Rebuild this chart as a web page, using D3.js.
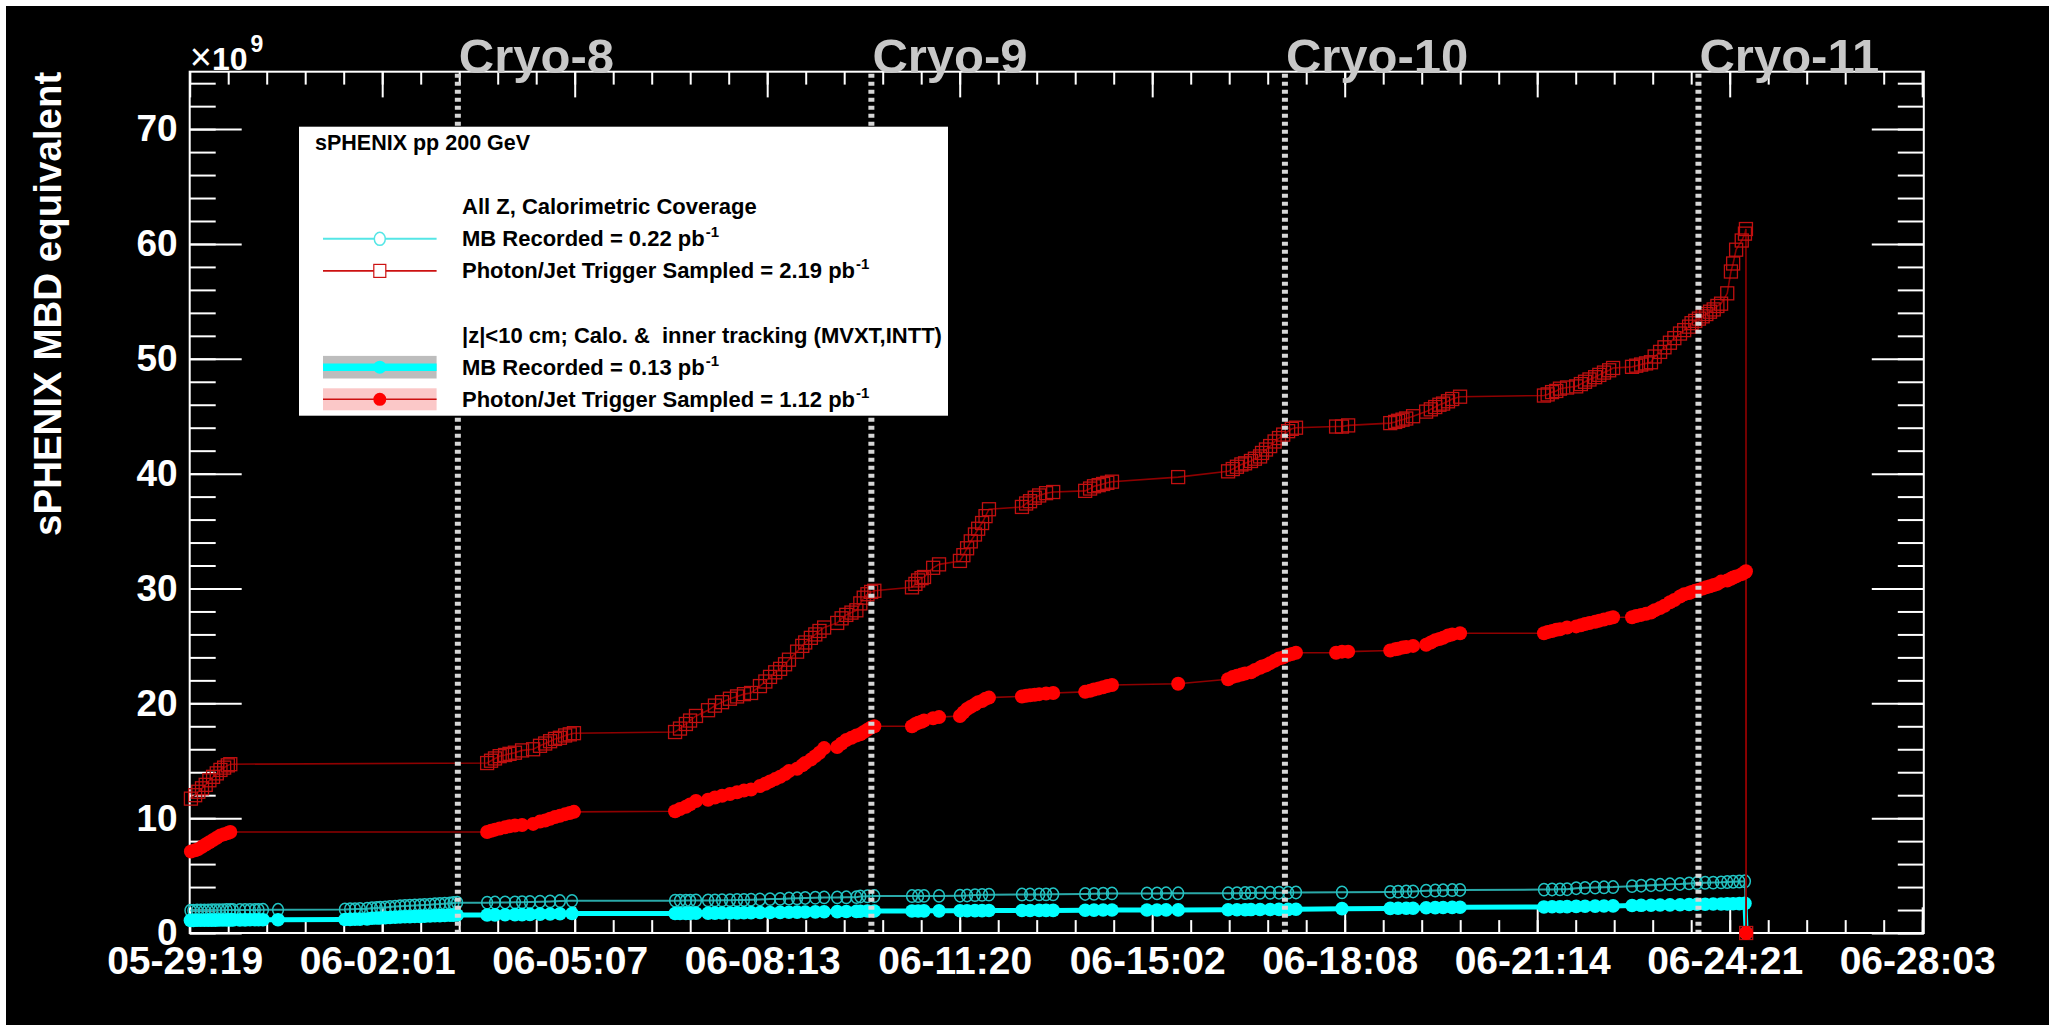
<!DOCTYPE html>
<html>
<head>
<meta charset="utf-8">
<script src="https://cdn.jsdelivr.net/npm/d3@7"></script>
<style>
  body { margin: 0; background: #fff; }
  text { font-family: "Liberation Sans", Arial, Helvetica, sans-serif; }
</style>
</head>
<body>
<div class="chart"></div>
<script>
// values, x is hours after 05-29 19:06
const xTickLabels = ["05-29:19", "06-02:01", "06-05:07", "06-08:13", "06-11:20",
    "06-15:02", "06-18:08", "06-21:14", "06-24:21", "06-28:03"];
const majorHours = 78.25;
const xMaxHours = 704.9;

const cryoLabels = ["Cryo-8", "Cryo-9", "Cryo-10", "Cryo-11"];
const cryoHours = [109, 277.1, 445.2, 613.3];

// photon/jet trigger runs
const photonHours = [
    0.5, 2.2, 3.5, 5, 6.5, 8, 9.5, 11, 12.5, 14, 15.5, 16.5,
    120.9, 122.5, 124.1, 126, 128.2, 130, 132.2, 135.1,
    139.6, 142.4, 144.5, 146.5, 148.5, 150.5, 152.6, 154.5, 156.2,
    197.3, 199.3, 201.7, 203.4, 205.8,
    210.7, 213.5, 216.4, 219.6, 222.5, 225.3,
    228.2, 231.8, 234, 235.9, 238, 240, 242, 243.6,
    246.9, 249, 250.2, 252.5, 254.3, 256, 257.9,
    263.2, 265, 266.9, 269, 271,
    272.6, 274, 275.5, 277, 278.3,
    293.6, 295, 296.1, 297.5, 298.5,
    302.2, 304.6,
    313.1, 314.5, 316, 317.5, 319.2, 320.5, 322.1, 323.5, 324.9,
    338.3, 340, 341.6, 343.5, 345.3, 348.1, 351,
    364, 366, 367.6, 369.5, 371.3, 373, 374.9,
    401.8,
    422.1, 424, 425.7, 427.5, 429, 431.4, 433, 435.1,
    435.9, 437.5, 439.2, 441, 442.8, 444.5, 446.5, 448, 449.7,
    466, 468.4, 470.9,
    488, 490, 491.2, 493, 494.5, 497.3,
    502.6, 504.5, 506.3, 508, 509.5, 511.5, 513.2, 516.4,
    550.5, 552, 553.8, 555.5, 557, 559.9,
    563.6, 565.5, 567.2, 569, 571.3, 573, 574.9, 577, 578.6,
    586.3, 588, 590, 592, 594,
    595.5, 597.7, 599.5, 601.7, 603.5, 605.8, 607.5, 609.5,
    610.5, 612, 613.5, 615, 616.5, 618, 619.5, 621, 622.5,
    625, 626.5, 627.4, 628.6, 630.9, 632.2, 632.6,
    632.7];
// all Z, photon/jet sampled (x1e9)
const photonAllZ = [
    11.7, 12.0, 12.3, 12.6, 12.9, 13.3, 13.6, 13.9, 14.2, 14.4, 14.6, 14.7,
    14.8, 15.0, 15.2, 15.4, 15.5, 15.6, 15.7, 15.9,
    16.0, 16.3, 16.5, 16.7, 16.9, 17.0, 17.2, 17.3, 17.4,
    17.5, 17.8, 18.2, 18.5, 18.9,
    19.4, 19.8, 20.1, 20.4, 20.6, 20.8,
    20.9, 21.5, 21.9, 22.3, 22.7, 23.0, 23.4, 23.8,
    24.5, 25.0, 25.3, 25.7, 26.0, 26.3, 26.6,
    27.0, 27.4, 27.7, 27.9, 28.1,
    28.7, 29.2, 29.5, 29.7, 29.8,
    30.1, 30.4, 30.7, 30.9, 31.0,
    31.8, 32.1,
    32.4, 32.9, 33.5, 34.1, 34.7, 35.2, 35.7, 36.3, 36.9,
    37.1, 37.4, 37.6, 37.9, 38.1, 38.3, 38.4,
    38.5, 38.7, 38.9, 39.0, 39.1, 39.2, 39.3,
    39.7,
    40.2, 40.4, 40.6, 40.8, 40.9, 41.1, 41.3, 41.5,
    41.8, 42.1, 42.4, 42.8, 43.1, 43.4, 43.7, 43.9, 44.0,
    44.1, 44.1, 44.2,
    44.4, 44.5, 44.6, 44.7, 44.8, 45.0,
    45.4, 45.6, 45.8, 46.0, 46.1, 46.3, 46.5, 46.7,
    46.8, 46.9, 47.1, 47.2, 47.4, 47.5,
    47.6, 47.8, 48.0, 48.2, 48.4, 48.6, 48.8, 49.0, 49.2,
    49.3, 49.4, 49.5, 49.6, 49.7,
    50.2, 50.6, 51.0, 51.4, 51.8, 52.2, 52.5, 52.8,
    53.1, 53.3, 53.5, 53.7, 53.9, 54.1, 54.3, 54.6, 54.8,
    55.7, 57.6, 58.3, 59.5, 60.3, 60.9, 61.3,
    0];
// |z|<10 cm, photon/jet sampled (x1e9)
const photonZ10 = [
    7.1, 7.2, 7.3, 7.5, 7.7, 7.9, 8.1, 8.3, 8.5, 8.6, 8.7, 8.8,
    8.8, 8.9, 9.0, 9.1, 9.2, 9.3, 9.35, 9.4,
    9.5, 9.7, 9.8, 9.95, 10.1, 10.2, 10.35, 10.45, 10.55,
    10.6, 10.8, 11.0, 11.2, 11.5,
    11.6, 11.8, 11.95, 12.1, 12.25, 12.4,
    12.5, 12.8, 13.0, 13.2, 13.4, 13.6, 13.85, 14.1,
    14.3, 14.6, 14.8, 15.1, 15.4, 15.7, 16.1,
    16.2, 16.5, 16.8, 17.0, 17.2,
    17.3, 17.5, 17.7, 17.9, 18.0,
    18.0, 18.2, 18.3, 18.4, 18.5,
    18.7, 18.8,
    18.9, 19.2, 19.5, 19.7, 19.9, 20.1, 20.2, 20.4, 20.5,
    20.6, 20.65, 20.7, 20.75, 20.8, 20.85, 20.9,
    21.0, 21.1, 21.2, 21.3, 21.4, 21.5, 21.6,
    21.7,
    22.1, 22.3, 22.4, 22.5, 22.6, 22.7, 22.9, 23.1,
    23.2, 23.3, 23.5, 23.7, 23.9, 24.0, 24.2, 24.3, 24.4,
    24.4, 24.5, 24.5,
    24.6, 24.7, 24.75, 24.85, 24.9, 25.0,
    25.1, 25.3, 25.5, 25.6, 25.7, 25.9, 26.0, 26.1,
    26.1, 26.2, 26.3, 26.4, 26.45, 26.6,
    26.7, 26.8, 26.9, 27.0, 27.1, 27.2, 27.3, 27.4, 27.5,
    27.5, 27.6, 27.7, 27.8, 27.9,
    28.1, 28.3, 28.5, 28.8, 29.0, 29.3, 29.5, 29.6,
    29.7, 29.8, 29.9, 30.0, 30.1, 30.2, 30.3, 30.4, 30.6,
    30.7, 30.85, 30.95, 31.05, 31.25, 31.4, 31.5,
    0];

// minimum bias runs
const mbHours = [
    0.3, 1.5, 3, 4.5, 6, 7.5, 9, 10.5, 12, 13.5, 15, 16.5, 17.6,
    20.4, 22.5, 24.5, 26.5, 28, 29.8,
    35.9,
    63.1, 65.2, 67.2, 69.2, 72.1,
    74.1, 76, 77.4, 79.5, 81.4, 83.5, 85.5, 87.5, 89.5, 91.5, 93.6, 95.5, 97.7, 99.7, 101.7, 103.7, 105.8, 107.2, 108.7,
    120.9, 124.1, 128.2, 132.2, 135.1,
    138.3, 142.4, 146.5, 150.5, 155.4,
    197.3, 199.3, 201.7, 203.4, 205.8,
    210.7, 213.5, 216.4, 219.6, 222.5, 225.3,
    228.2, 231.8, 235.9, 240, 243.6, 246.9, 250.2, 254.3, 257.9,
    263.2, 266.9, 271,
    272.6, 275.5, 278.3,
    293.6, 296.1, 298.5,
    304.6,
    313.1, 316, 319.2, 322.1, 324.9,
    338.3, 341.6, 345.3, 348.1, 351,
    364, 367.6, 371.3, 374.9,
    389.1, 393.2, 396.9,
    401.8,
    422.1, 425.7, 429, 431.4, 435.1, 439.2, 442.8, 446.5, 449.7,
    468.4,
    488, 491.2, 494.5, 497.3,
    502.6, 506.3, 509.5, 513.2, 516.4,
    550.5, 553.8, 557, 559.9,
    563.6, 567.2, 571.3, 574.9, 578.6,
    586.3, 590, 594, 597.7, 601.7, 605.8,
    609.5, 612.7, 616, 619.3, 622.5,
    625, 627.4, 629.9, 632.2,
    632.7];
// all Z, MB recorded (x1e9)
const mbAllZ = [
    1.95, 1.95, 1.96, 1.96, 1.97, 1.97, 1.98, 1.98, 1.99, 1.99, 2.0, 2.0, 2.0,
    2.0, 2.0, 2.01, 2.01, 2.01, 2.02,
    2.02,
    2.05, 2.07, 2.08, 2.1, 2.12,
    2.15, 2.18, 2.2, 2.23, 2.26, 2.3, 2.33, 2.36, 2.38, 2.4, 2.42, 2.44, 2.47, 2.5, 2.52, 2.55, 2.58, 2.61, 2.64,
    2.64, 2.65, 2.66, 2.67, 2.68,
    2.7, 2.73, 2.75, 2.78, 2.8,
    2.81, 2.81, 2.82, 2.82, 2.83,
    2.84, 2.84, 2.85, 2.86, 2.87, 2.88,
    2.9, 2.92, 2.95, 2.97, 3.0, 3.02, 3.05, 3.07, 3.1,
    3.1, 3.11, 3.12,
    3.18, 3.2, 3.22,
    3.22, 3.22, 3.23,
    3.23,
    3.25, 3.27, 3.3, 3.32, 3.34,
    3.35, 3.35, 3.36, 3.36, 3.37,
    3.4, 3.41, 3.43, 3.45,
    3.45, 3.45, 3.46,
    3.46,
    3.46, 3.47, 3.48, 3.49, 3.5, 3.5, 3.51, 3.52, 3.53,
    3.54,
    3.58, 3.6, 3.61, 3.62,
    3.68, 3.7, 3.72, 3.74, 3.75,
    3.78, 3.79, 3.8, 3.81,
    3.9, 3.93, 3.96, 3.98, 4.0,
    4.08, 4.12, 4.16, 4.2, 4.24, 4.27,
    4.32, 4.35, 4.37, 4.39, 4.41,
    4.44, 4.46, 4.48, 4.5,
    0];
// |z|<10 cm, MB recorded (x1e9)
const mbZ10 = [
    1.10, 1.10, 1.11, 1.11, 1.11, 1.12, 1.12, 1.12, 1.13, 1.13, 1.13, 1.14, 1.14,
    1.14, 1.14, 1.15, 1.15, 1.15, 1.16,
    1.16,
    1.18, 1.19, 1.2, 1.21, 1.22,
    1.28, 1.3, 1.31, 1.33, 1.35, 1.37, 1.39, 1.41, 1.42, 1.44, 1.45, 1.47, 1.48, 1.5, 1.51, 1.53, 1.54, 1.56, 1.57,
    1.57, 1.58, 1.59, 1.6, 1.6,
    1.62, 1.64, 1.66, 1.68, 1.7,
    1.7, 1.7, 1.71, 1.71, 1.72,
    1.72, 1.73, 1.74, 1.74, 1.75, 1.76,
    1.77, 1.78, 1.79, 1.8, 1.81, 1.82, 1.83, 1.84, 1.85,
    1.86, 1.87, 1.88,
    1.9, 1.91, 1.92,
    1.92, 1.92, 1.93,
    1.93,
    1.94, 1.94, 1.95, 1.95, 1.96,
    1.96, 1.96, 1.97, 1.97, 1.97,
    1.98, 1.99, 2.0, 2.0,
    2.0, 2.0, 2.01,
    2.01,
    2.02, 2.03, 2.03, 2.04, 2.05, 2.05, 2.06, 2.06, 2.07,
    2.12,
    2.14, 2.15, 2.15, 2.16,
    2.2, 2.21, 2.22, 2.23, 2.24,
    2.27, 2.28, 2.29, 2.3,
    2.32, 2.33, 2.34, 2.35, 2.36,
    2.4, 2.41, 2.42, 2.44, 2.45, 2.46,
    2.48, 2.5, 2.51, 2.52, 2.53,
    2.54, 2.55, 2.56, 2.58,
    0];

const legendTitle = "sPHENIX pp 200 GeV";
const legendHeaders = ["All Z, Calorimetric Coverage", "|z|<10 cm; Calo. &  inner tracking (MVXT,INTT)"];
const legendLabels = ["MB Recorded = 0.22 pb", "Photon/Jet Trigger Sampled = 2.19 pb",
    "MB Recorded = 0.13 pb", "Photon/Jet Trigger Sampled = 1.12 pb"];

//to set the size of the picture and the frame
const width = 2049;
const height = 1025;
const frame = {left: 189.7, right: 1923.8, top: 71.7, bottom: 933};

const xScale = d3.scaleLinear()
    .domain([0, xMaxHours])
    .range([frame.left, frame.right]);
const yScale = d3.scaleLinear()
    .domain([0, 75])
    .range([frame.bottom, frame.top]);

const svg = d3.select(".chart")
    .append("svg")
    .attr("width", width)
    .attr("height", height);

svg.append("rect")
    .attr("x", 6).attr("y", 6)
    .attr("width", width - 6).attr("height", height - 6)
    .attr("fill", "#000");

//axes: major and minor ticks on all four sides
const majorX = xTickLabels.map((d, i) => i * majorHours);
const minorX = d3.range(0, xMaxHours, majorHours / 5);
const majorY = d3.range(0, 71, 10);
const minorY = d3.range(0, 75.1, 2);

function styleAxis(g, size) {
    g.select(".domain").remove();
    g.style("color", "#fff")
        .attr("font-family", "Liberation Sans, Arial, sans-serif")
        .attr("font-weight", "bold")
        .attr("font-size", size || 38);
    g.selectAll("line").attr("stroke-width", 2);
}

svg.append("g")
    .attr("transform", "translate(0," + frame.bottom + ")")
    .call(d3.axisBottom(xScale).tickValues(majorX).tickSize(-25.7).tickPadding(13)
        .tickFormat((d, i) => xTickLabels[i]))
    .call(styleAxis, 39)
    .selectAll("text").attr("dx", -5);
svg.append("g")
    .attr("transform", "translate(0," + frame.bottom + ")")
    .call(d3.axisBottom(xScale).tickValues(minorX).tickSize(-12.9).tickFormat(""))
    .call(styleAxis);
svg.append("g")
    .attr("transform", "translate(0," + frame.top + ")")
    .call(d3.axisTop(xScale).tickValues(majorX).tickSize(-25.7).tickFormat(""))
    .call(styleAxis);
svg.append("g")
    .attr("transform", "translate(0," + frame.top + ")")
    .call(d3.axisTop(xScale).tickValues(minorX).tickSize(-12.9).tickFormat(""))
    .call(styleAxis);

svg.append("g")
    .attr("transform", "translate(" + frame.left + ",0)")
    .call(d3.axisLeft(yScale).tickValues(majorY).tickSize(-52).tickPadding(12))
    .call(styleAxis, 37);
svg.append("g")
    .attr("transform", "translate(" + frame.left + ",0)")
    .call(d3.axisLeft(yScale).tickValues(minorY).tickSize(-26).tickFormat(""))
    .call(styleAxis);
svg.append("g")
    .attr("transform", "translate(" + frame.right + ",0)")
    .call(d3.axisRight(yScale).tickValues(majorY).tickSize(-52).tickFormat(""))
    .call(styleAxis);
svg.append("g")
    .attr("transform", "translate(" + frame.right + ",0)")
    .call(d3.axisRight(yScale).tickValues(minorY).tickSize(-26).tickFormat(""))
    .call(styleAxis);

svg.append("rect")
    .attr("x", frame.left).attr("y", frame.top)
    .attr("width", frame.right - frame.left)
    .attr("height", frame.bottom - frame.top)
    .attr("fill", "none")
    .attr("stroke", "#fff")
    .attr("stroke-width", 2);

// axis title and exponent
svg.append("text")
    .attr("transform", "translate(61," + frame.top + ") rotate(-90)")
    .attr("text-anchor", "end")
    .attr("font-size", 38.5)
    .attr("font-weight", "bold")
    .attr("fill", "#fff")
    .text("sPHENIX MBD equivalent");

const expo = svg.append("text")
    .attr("x", frame.left).attr("y", 70)
    .attr("font-size", 32)
    .attr("fill", "#fff");
expo.append("tspan").attr("font-size", 38).text("\u00d7");
expo.append("tspan").attr("font-weight", "bold").text("10");
expo.append("tspan").attr("dy", -18).attr("dx", 3).attr("font-size", 23).attr("font-weight", "bold").text("9");

// series
const photonData = photonHours.map((h, i) => ({h: h, allZ: photonAllZ[i], z10: photonZ10[i]}));
const mbData = mbHours.map((h, i) => ({h: h, allZ: mbAllZ[i], z10: mbZ10[i]}));

const lineOf = (key) => d3.line()
    .x((d) => xScale(d.h))
    .y((d) => yScale(d[key]));

svg.append("path")
    .datum(mbData)
    .attr("d", lineOf("allZ"))
    .attr("fill", "none")
    .attr("stroke", "#2aa8a8")
    .attr("stroke-width", 2);
svg.append("path")
    .datum(mbData)
    .attr("d", lineOf("z10"))
    .attr("fill", "none")
    .attr("stroke", "#00ffff")
    .attr("stroke-width", 5);

svg.append("g")
    .selectAll("ellipse")
    .data(mbData)
    .enter()
    .append("ellipse")
    .attr("cx", (d) => xScale(d.h))
    .attr("cy", (d) => yScale(d.allZ))
    .attr("rx", 5.4)
    .attr("ry", 6.2)
    .attr("fill", "none")
    .attr("stroke", "#22c4c4")
    .attr("stroke-width", 1.5);
svg.append("g")
    .selectAll("circle")
    .data(mbData)
    .enter()
    .append("circle")
    .attr("cx", (d) => xScale(d.h))
    .attr("cy", (d) => yScale(d.z10))
    .attr("r", 6.8)
    .attr("fill", "#00ffff");

svg.append("path")
    .datum(photonData)
    .attr("d", lineOf("allZ"))
    .attr("fill", "none")
    .attr("stroke", "#8e0000")
    .attr("stroke-width", 1.6);
svg.append("path")
    .datum(photonData)
    .attr("d", lineOf("z10"))
    .attr("fill", "none")
    .attr("stroke", "#8e0000")
    .attr("stroke-width", 1.6);

svg.append("g")
    .selectAll("rect")
    .data(photonData)
    .enter()
    .append("rect")
    .attr("x", (d) => xScale(d.h) - 6.5)
    .attr("y", (d) => yScale(d.allZ) - 6.5)
    .attr("width", 13)
    .attr("height", 13)
    .attr("fill", "none")
    .attr("stroke", "#c01010")
    .attr("stroke-width", 1.3);
svg.append("g")
    .selectAll("circle")
    .data(photonData)
    .enter()
    .append("circle")
    .attr("cx", (d) => xScale(d.h))
    .attr("cy", (d) => yScale(d.z10))
    .attr("r", 7)
    .attr("fill", "#ff0000");

// cryo markers
svg.append("g")
    .selectAll("line")
    .data(cryoHours)
    .enter()
    .append("line")
    .attr("x1", (d) => xScale(d))
    .attr("x2", (d) => xScale(d))
    .attr("y1", frame.top + 2)
    .attr("y2", frame.bottom - 1)
    .attr("stroke", "#d6d6d6")
    .attr("stroke-width", 6)
    .attr("stroke-dasharray", "4,4");

svg.append("g")
    .selectAll("text")
    .data(cryoHours)
    .enter()
    .append("text")
    .attr("x", (d) => xScale(d) + 1)
    .attr("y", 73)
    .attr("font-size", 49)
    .attr("font-weight", "bold")
    .attr("fill", "#c8c8c8")
    .text((d, i) => cryoLabels[i]);

// legend
const legend = svg.append("g");
legend.append("rect")
    .attr("x", 299).attr("y", 126.7)
    .attr("width", 649).attr("height", 289)
    .attr("fill", "#fff");

const rowY = (i) => 150 + 32.1 * i;
legend.append("text")
    .attr("x", 315).attr("y", rowY(0))
    .attr("font-size", 21.5).attr("font-weight", "bold")
    .text(legendTitle);

[2, 6].forEach((row, k) => {
    legend.append("text")
        .attr("x", 462).attr("y", rowY(row))
        .attr("font-size", 22).attr("font-weight", "bold")
        .style("white-space", "pre")
        .text(legendHeaders[k]);
});

[3, 4, 7, 8].forEach((row, k) => {
    const t = legend.append("text")
        .attr("x", 462).attr("y", rowY(row))
        .attr("font-size", 22).attr("font-weight", "bold")
        .style("white-space", "pre");
    t.append("tspan").text(legendLabels[k]);
    t.append("tspan").attr("dy", -9).attr("dx", 1).attr("font-size", 15).text("-1");
});

const symY = (row) => rowY(row) - 7.5;
// gray and pink bands behind the |z|<10 entries
legend.append("rect")
    .attr("x", 323).attr("y", symY(7) - 11.3)
    .attr("width", 113.6).attr("height", 22.6)
    .attr("fill", "#bdbdbd");
legend.append("rect")
    .attr("x", 323).attr("y", symY(8) - 11)
    .attr("width", 113.6).attr("height", 22)
    .attr("fill", "#fbc8c8");

const symLine = (row, color, w) => legend.append("line")
    .attr("x1", 323).attr("x2", 436.6)
    .attr("y1", symY(row)).attr("y2", symY(row))
    .attr("stroke", color).attr("stroke-width", w);
symLine(3, "#55e6e6", 2);
symLine(4, "#cc1111", 1.6);
symLine(7, "#00ffff", 7.5);
symLine(8, "#cc1111", 1.6);

legend.append("ellipse")
    .attr("cx", 379.8).attr("cy", symY(3)).attr("rx", 5.5).attr("ry", 6.5)
    .attr("fill", "#fff").attr("stroke", "#55e6e6").attr("stroke-width", 1.5);
legend.append("rect")
    .attr("x", 379.8 - 6).attr("y", symY(4) - 6.5)
    .attr("width", 12).attr("height", 13)
    .attr("fill", "#fff").attr("stroke", "#cc1111").attr("stroke-width", 1.2);
legend.append("circle")
    .attr("cx", 379.8).attr("cy", symY(7)).attr("r", 6.5)
    .attr("fill", "#00ffff");
legend.append("circle")
    .attr("cx", 379.8).attr("cy", symY(8)).attr("r", 6.5)
    .attr("fill", "#ff0000");
</script>
</body>
</html>
